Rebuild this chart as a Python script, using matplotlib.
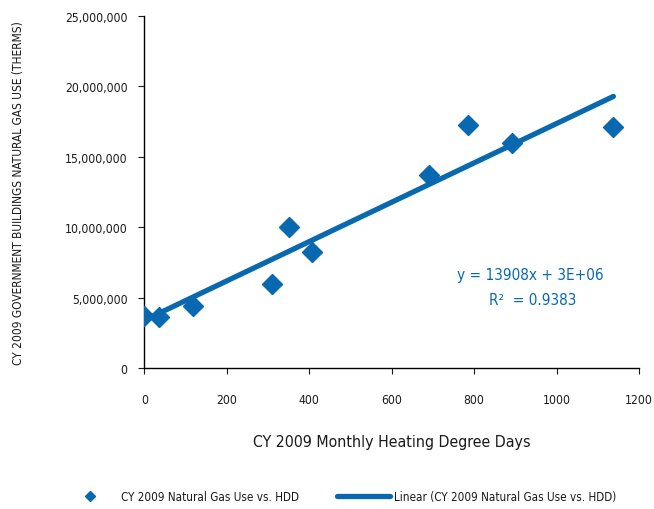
import numpy as np
import matplotlib
matplotlib.use('Agg')
import matplotlib.pyplot as plt
from matplotlib import font_manager
from matplotlib.ticker import FuncFormatter

# use a narrow face if one is around, DIN-like look of the original
names = {(f.name, f.stretch) for f in font_manager.fontManager.ttflist}
if any(n == 'DejaVu Sans' and s == 'condensed' for n, s in names):
    plt.rcParams['font.family'] = ['DejaVu Sans']
    plt.rcParams['font.stretch'] = 'condensed'
    k = 1.0
elif any(n == 'Liberation Sans Narrow' for n, s in names):
    plt.rcParams['font.family'] = ['Liberation Sans Narrow', 'DejaVu Sans']
    k = 1.0
else:
    plt.rcParams['font.family'] = ['DejaVu Sans']
    k = 0.85

# monthly heating degree days vs natural gas use (therms)
hdd = [0, 36, 119, 310, 350, 407, 690, 785, 893, 1138]
therms = [3670000, 3600000, 4380000, 5970000, 10040000, 8220000,
          13730000, 17280000, 15960000, 17090000]

blue = '#0868b0'
dark = '#1a1a1a'

fig = plt.figure(figsize=(6.54, 5.10), dpi=100)
ax = fig.add_axes([0.2207, 0.2765, 0.7563, 0.6902])

ax.plot(hdd, therms, 'D', color=blue, markersize=10, linestyle='none',
        label='CY 2009 Natural Gas Use vs. HDD', zorder=3)

slope, intercept = np.polyfit(hdd, therms, 1)
xs = np.array([min(hdd), max(hdd)])
ax.plot(xs, slope * xs + intercept, color=blue, linewidth=3.8,
        solid_capstyle='round', label='Linear (CY 2009 Natural Gas Use vs. HDD)', zorder=2)

ax.set_xlim(0, 1200)
ax.set_ylim(0, 25000000)
ax.set_xticks(range(0, 1201, 200))
ax.set_yticks(range(0, 25000001, 5000000))
ax.yaxis.set_major_formatter(FuncFormatter(lambda v, p: f'{int(v):,}'))
ax.tick_params(colors=dark, labelsize=8.7 * k, length=4, width=0.8)
ax.tick_params(axis='x', pad=14)
ax.tick_params(axis='y', pad=8)
for s in ['top', 'right']:
    ax.spines[s].set_visible(False)
for s in ['left', 'bottom']:
    ax.spines[s].set_color('black')
    ax.spines[s].set_linewidth(1.0)

ax.set_xlabel('CY 2009 Monthly Heating Degree Days', fontsize=11.4 * k, color=dark, labelpad=20)
ax.set_ylabel('CY 2009 GOVERNMENT BUILDINGS NATURAL GAS USE (THERMS)', fontsize=8.55 * k,
              color=dark, labelpad=29)

ax.text(0.78, 0.267, 'y = 13908x + 3E+06', transform=ax.transAxes,
        ha='center', va='center', color=blue, fontsize=11 * k)
ax.text(0.786, 0.194, 'R²  = 0.9383', transform=ax.transAxes,
        ha='center', va='center', color=blue, fontsize=11 * k)

fig.legend(loc='center left', bbox_to_anchor=(0.097, 0.025), ncol=2, frameon=False,
           fontsize=8.4 * k, handlelength=4.6, handletextpad=0.35, columnspacing=3.2,
           markerscale=0.55, labelcolor=dark, borderpad=0, borderaxespad=0)

fig.savefig('out.png', dpi=100)
